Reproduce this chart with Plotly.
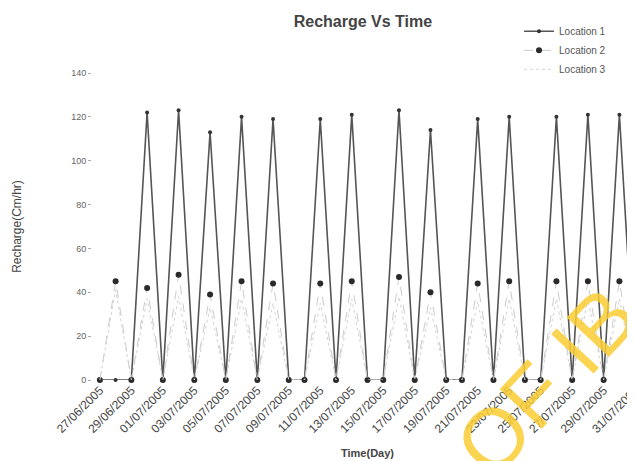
import plotly.graph_objects as go

dates = ["27/06/2005", "28/06/2005", "29/06/2005", "30/06/2005", "01/07/2005",
         "02/07/2005", "03/07/2005", "04/07/2005", "05/07/2005", "06/07/2005",
         "07/07/2005", "08/07/2005", "09/07/2005", "10/07/2005", "11/07/2005",
         "12/07/2005", "13/07/2005", "14/07/2005", "15/07/2005", "16/07/2005",
         "17/07/2005", "18/07/2005", "19/07/2005", "20/07/2005", "21/07/2005",
         "22/07/2005", "23/07/2005", "24/07/2005", "25/07/2005", "26/07/2005",
         "27/07/2005", "28/07/2005", "29/07/2005", "30/07/2005", "31/07/2005"]

location1 = [0, 0, 0, 122, 0, 123, 0, 113, 0, 120, 0, 119, 0, 0, 119, 0, 121, 0, 0,
             123, 0, 114, 0, 0, 119, 0, 120, 0, 0, 120, 0, 121, 0, 121, 0]
location2 = [0, 45, 0, 42, 0, 48, 0, 39, 0, 45, 0, 44, 0, 0, 44, 0, 45, 0, 0,
             47, 0, 40, 0, 0, 44, 0, 45, 0, 0, 45, 0, 45, 0, 45, 0]
location3 = [0, 41, 0, 37, 0, 38, 0, 33, 0, 37, 0, 35, 0, 0, 35, 0, 37, 0, 0,
             38, 0, 33, 0, 0, 36, 0, 37, 0, 0, 37, 0, 37, 0, 37, 0]

tick_labels = ["27/06/2005", "29/06/2005", "01/07/2005", "03/07/2005", "05/07/2005",
               "07/07/2005", "09/07/2005", "11/07/2005", "13/07/2005", "15/07/2005",
               "17/07/2005", "19/07/2005", "21/07/2005", "23/07/2005", "25/07/2005",
               "27/07/2005", "29/07/2005", "31/07/2005"]
y_ticks = [0, 20, 40, 60, 80, 100, 120, 140]

FONT = "Liberation Sans, Arial, sans-serif"

fig = go.Figure()
fig.add_trace(go.Scatter(
    x=dates, y=location1, name="Location 1", mode="lines+markers",
    line=dict(color="#555555", width=1.6),
    marker=dict(color="#333333", size=4, symbol="circle"),
    cliponaxis=False))
fig.add_trace(go.Scatter(
    x=dates, y=location2, name="Location 2", mode="lines+markers",
    line=dict(color="#cccccc", width=1, dash="dash"),
    marker=dict(color="#2a2a2a", size=6, symbol="circle"),
    cliponaxis=False))
fig.add_trace(go.Scatter(
    x=dates, y=location3, name="Location 3", mode="lines",
    line=dict(color="#d4d4d4", width=1, dash="dot"),
    cliponaxis=False))

fig.update_layout(
    width=635, height=461,
    margin=dict(l=84, r=0, t=65, b=89),
    paper_bgcolor="white", plot_bgcolor="white",
    font=dict(family=FONT, color="#555555"),
    title=dict(text="<b>Recharge Vs Time</b>", x=0.559, xanchor="center",
               y=0.97, yanchor="middle",
               font=dict(size=16, color="#444444", family=FONT)),
    showlegend=True,
    legend=dict(x=0.775, xanchor="left", y=1.183, yanchor="top",
                bgcolor="rgba(0,0,0,0)", font=dict(size=10, color="#555555"),
                tracegroupgap=0, itemwidth=30),
    xaxis=dict(type="category", categoryorder="array", categoryarray=dates,
               range=[-0.5, 34.5], tickmode="array", tickvals=tick_labels,
               ticktext=tick_labels, tickangle=-45, automargin=False,
               tickfont=dict(size=12, color="#444444"),
               showgrid=False, showline=False, zeroline=False,
               ticks="", title=dict(text="<b>Time(Day)</b>",
                                    font=dict(size=11, color="#444444"), standoff=14)),
    yaxis=dict(range=[0, 140], tickmode="array", tickvals=y_ticks, automargin=False,
               tickfont=dict(size=9, color="#666666"),
               showgrid=False, showline=False, zeroline=False,
               ticks="outside", ticklen=3, tickcolor="#aaaaaa",
               title=dict(text="Recharge(Cm/hr)",
                          font=dict(size=12, color="#444444"), standoff=46)),
)

fig.add_annotation(text="OF IB", xref="paper", yref="paper",
                   x=0.824, y=-0.007, xanchor="center", yanchor="middle",
                   textangle=-47, showarrow=False,
                   font=dict(size=84, color="rgba(250,205,50,0.85)", family=FONT))

fig.write_html("out.html")
